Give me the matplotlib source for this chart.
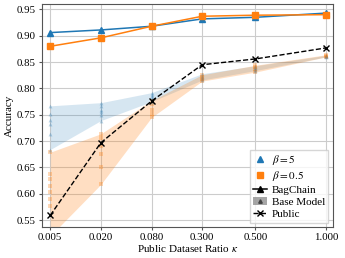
import matplotlib
matplotlib.use("Agg")
import matplotlib.pyplot as plt
from matplotlib.lines import Line2D
from matplotlib.patches import Patch
import numpy as np

plt.rcParams['font.family'] = ['Liberation Serif', 'DejaVu Serif']
plt.rcParams['mathtext.fontset'] = 'stix'

kappa_labels = ["0.005", "0.020", "0.080", "0.300", "0.500", "1.000"]
x_pos = [0, 1, 2, 3, 4.05, 5.45]

bag_b5 = [0.906, 0.911, 0.918, 0.932, 0.935, 0.943]
bag_b05 = [0.880, 0.896, 0.918, 0.937, 0.939, 0.940]
public = [0.559, 0.697, 0.776, 0.845, 0.856, 0.877]

base_b5 = [
    [0.767, 0.752, 0.740, 0.733, 0.714, 0.684],
    [0.773, 0.767, 0.760, 0.755, 0.750, 0.739],
    [0.792, 0.788, 0.784, 0.780, 0.777, 0.775],
    [0.828, 0.824, 0.822, 0.820, 0.818, 0.816],
    [0.843, 0.841, 0.838, 0.837, 0.835, 0.834],
    [0.863, 0.862, 0.862, 0.861, 0.861, 0.860],
]
base_b05 = [
    [0.679, 0.637, 0.629, 0.615, 0.604, 0.590, 0.577, 0.520],
    [0.714, 0.706, 0.690, 0.675, 0.650, 0.618],
    [0.777, 0.770, 0.760, 0.752, 0.745],
    [0.826, 0.822, 0.818, 0.814],
    [0.844, 0.840, 0.836, 0.831],
    [0.864, 0.862, 0.860],
]

blue = '#1f77b4'
orange = '#ff7f0e'

fig = plt.figure(figsize=(3.45, 2.58), dpi=100)
ax = fig.add_axes([0.122, 0.12, 0.843, 0.864])

for base, col, mk, a in [(base_b5, blue, '^', 0.18), (base_b05, orange, 's', 0.25)]:
    lo = [min(v) for v in base]
    hi = [max(v) for v in base]
    ax.fill_between(x_pos, lo, hi, color=col, alpha=a, linewidth=0)
    for xp, vals in zip(x_pos, base):
        ax.plot([xp] * len(vals), vals, linestyle='none', marker=mk,
                color=col, alpha=0.3, markersize=2.8, markeredgewidth=0)

ax.plot(x_pos, bag_b5, color=blue, marker='^', markersize=4.5, linewidth=1.1)
ax.plot(x_pos, bag_b05, color=orange, marker='s', markersize=4.5, linewidth=1.1)
ax.plot(x_pos, public, color='black', linestyle='--', marker='x',
        markersize=4.5, linewidth=1.0)

ax.set_xticks(x_pos)
ax.set_xticklabels(kappa_labels)
ax.set_xlim(-0.16, 5.58)
ax.set_ylim(0.537, 0.96)
ax.set_yticks(np.arange(0.55, 0.951, 0.05))
ax.yaxis.set_major_formatter(matplotlib.ticker.FormatStrFormatter('%.2f'))
ax.tick_params(labelsize=7.8, length=2.5, pad=2, color='#555555')
ax.grid(True, color='#cccccc', linewidth=0.8)
ax.set_axisbelow(True)
for s in ax.spines.values():
    s.set_color('#555555')
ax.set_xlabel(r'Public Dataset Ratio $\kappa$', fontsize=8, labelpad=0.5)
ax.set_ylabel('Accuracy', fontsize=8, labelpad=2)

handles = [
    Line2D([], [], linestyle='none', marker='^', color=blue, markersize=4.5),
    Line2D([], [], linestyle='none', marker='s', color=orange, markersize=4.5),
    Line2D([], [], color='black', marker='^', markersize=4, linewidth=1.1),
    (Patch(facecolor='gray', alpha=0.7, linewidth=0),
     Line2D([], [], linestyle='none', marker='^', color='#444444', markersize=2.5)),
    Line2D([], [], color='black', linestyle='--', marker='x', markersize=4, linewidth=1.0),
]
labels = [r'$\beta = 5$', r'$\beta = 0.5$', 'BagChain', 'Base Model', 'Public']
ax.legend(handles, labels, loc='lower right', fontsize=8, handlelength=1.3,
          handletextpad=0.4, borderpad=0.3, labelspacing=0.2, framealpha=0.8,
          edgecolor='#cccccc', fancybox=False, borderaxespad=0.4)

fig.savefig('out.png', dpi=100)
